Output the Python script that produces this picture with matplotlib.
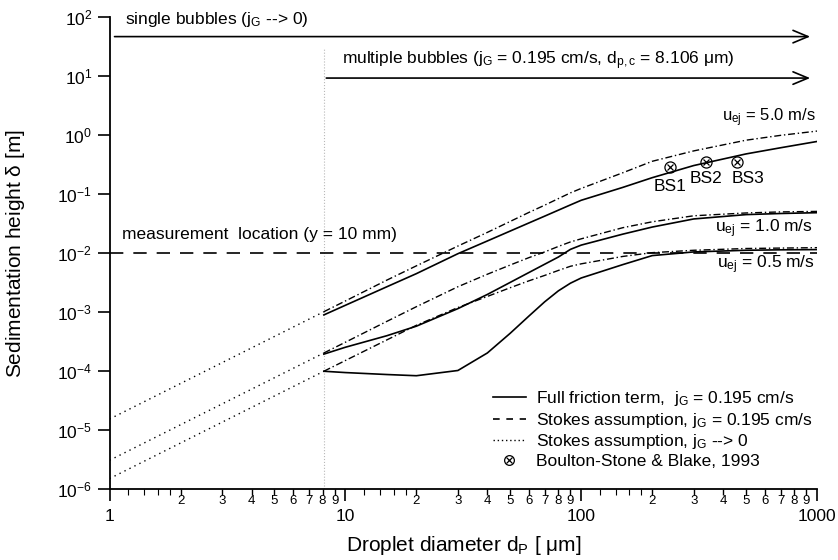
import numpy as np
import matplotlib
matplotlib.use('Agg')
import matplotlib.pyplot as plt
from matplotlib.lines import Line2D
from matplotlib.legend_handler import HandlerTuple
from matplotlib.ticker import FixedLocator, FuncFormatter, NullLocator

plt.rcParams['font.family'] = ['Liberation Sans', 'DejaVu Sans']
plt.rcParams['mathtext.fontset'] = 'custom'
plt.rcParams['mathtext.rm'] = 'Liberation Sans'
plt.rcParams['mathtext.it'] = 'Liberation Sans:italic'
plt.rcParams['mathtext.bf'] = 'Liberation Sans:bold'

# --- data ---
d_crit = 8.106  # um

# Stokes assumption, jG --> 0 (single bubbles, below d_p,c)
d_single = [1.0, 8.106]
stokes0_u5 = [1.55e-5, 1.02e-3]
stokes0_u1 = [3.1e-6, 2.04e-4]
stokes0_u05 = [1.52e-6, 1.0e-4]

# multiple bubbles, jG = 0.195 cm/s
d_multi = [8.106, 10, 15, 20, 30, 40, 50, 60, 70, 80, 90, 100, 150, 200, 300, 500, 700, 1000]
stokes_u5 = [1.02e-3, 1.55e-3, 3.5e-3, 6.1e-3, 1.32e-2, 2.25e-2, 3.45e-2, 4.9e-2, 6.5e-2,
             8.4e-2, 0.105, 0.125, 0.23, 0.36, 0.54, 0.82, 0.99, 1.17]
full_u5 = [9.0e-4, 1.31e-3, 2.7e-3, 4.5e-3, 9.8e-3, 1.61e-2, 2.37e-2, 3.25e-2, 4.24e-2,
           5.35e-2, 6.57e-2, 7.87e-2, 0.13, 0.19, 0.305, 0.48, 0.61, 0.78]
stokes_u1 = [2.04e-4, 3.1e-4, 7.0e-4, 1.24e-3, 2.7e-3, 4.4e-3, 6.3e-3, 8.4e-3, 1.05e-2,
             1.3e-2, 1.55e-2, 1.75e-2, 2.7e-2, 3.4e-2, 4.3e-2, 4.8e-2, 5.0e-2, 5.1e-2]
full_u1 = [1.95e-4, 2.55e-4, 4.0e-4, 5.8e-4, 1.15e-3, 2.0e-3, 3.2e-3, 4.7e-3, 6.5e-3,
           8.6e-3, 1.16e-2, 1.37e-2, 2.1e-2, 2.77e-2, 3.8e-2, 4.5e-2, 4.7e-2, 4.85e-2]
stokes_u05 = [1.0e-4, 1.52e-4, 3.4e-4, 6.0e-4, 1.2e-3, 1.85e-3, 2.6e-3, 3.4e-3, 4.2e-3,
              5.1e-3, 6.0e-3, 6.6e-3, 8.8e-3, 1.02e-2, 1.12e-2, 1.2e-2, 1.22e-2, 1.24e-2]
full_u05 = [1.0e-4, 9.5e-5, 8.8e-5, 8.4e-5, 1.03e-4, 2.04e-4, 4.4e-4, 8.6e-4, 1.5e-3,
            2.3e-3, 3.1e-3, 3.8e-3, 6.4e-3, 9.1e-3, 1.05e-2, 1.12e-2, 1.14e-2, 1.15e-2]

# Boulton-Stone & Blake, 1993
bs_d = [238, 339, 457]
bs_delta = [0.293, 0.351, 0.351]
bs_names = ['BS1', 'BS2', 'BS3']

y_measure = 0.01

x_major = [1, 10, 100, 1000]
x_major_labels = ['1', '10', '100', '1000']
y_major = [1e-6, 1e-5, 1e-4, 1e-3, 1e-2, 1e-1, 1e0, 1e1, 1e2]

# --- figure ---
fig = plt.figure(figsize=(8.38, 5.6), dpi=100)
ax = fig.add_axes([0.1307, 0.1262, 0.8443, 0.8434])
ax.set_xscale('log')
ax.set_yscale('log')
ax.set_xlim(1, 1000)
ax.set_ylim(1e-6, 1e2)

dashdot = (5, 2, 1, 2)
dotted = (1, 3)

ax.vlines(d_crit, 1e-6, 30, colors='#b8b8b8', lw=0.8, linestyles=':')
ax.axhline(y_measure, color='k', lw=1.2, dashes=(8, 6))

for s0, st, fu in [(stokes0_u5, stokes_u5, full_u5),
                   (stokes0_u1, stokes_u1, full_u1),
                   (stokes0_u05, stokes_u05, full_u05)]:
    ax.plot(d_single, s0, color='k', lw=1.0, dashes=dotted)
    ax.plot(d_multi, st, color='k', lw=1.0, dashes=dashdot)
    ax.plot(d_multi, fu, color='k', lw=1.2)

ax.plot(bs_d, bs_delta, 'o', mfc='none', mec='k', ms=8, mew=0.9)
ax.plot(bs_d, bs_delta, 'x', color='k', ms=4.5, mew=0.9)

# arrows + annotations
arrow = dict(arrowstyle='->, head_length=0.6, head_width=0.25', lw=1.2, color='k',
             mutation_scale=18, shrinkA=0, shrinkB=0)
ax.annotate('', xy=(935, 46.6), xytext=(1.05, 46.6), arrowprops=arrow)
ax.annotate('', xy=(935, 9.25), xytext=(8.3, 9.25), arrowprops=arrow)

fs = 12.5
ax.text(1.163, 76, r'single bubbles (j$_{\mathrm{G}}$ --> 0)', fontsize=fs, va='baseline')
ax.text(9.66, 16.0, r'multiple bubbles (j$_{\mathrm{G}}$ = 0.195 cm/s, d$_{\mathrm{p,c}}$ = 8.106 $\mathrm{\mu}$m)',
        fontsize=fs, va='baseline')
ax.text(1.13, 0.0171, 'measurement  location (y = 10 mm)', fontsize=fs, va='baseline')
ax.text(990, 1.74, r'u$_{\mathrm{ej}}$ = 5.0 m/s', fontsize=fs - 0.5, ha='right', va='baseline')
ax.text(963, 0.0222, r'u$_{\mathrm{ej}}$ = 1.0 m/s', fontsize=fs, ha='right', va='baseline')
ax.text(982, 0.00565, r'u$_{\mathrm{ej}}$ = 0.5 m/s', fontsize=fs, ha='right', va='baseline')
for name, xx, yy in zip(bs_names, [238, 339, 512], [0.113, 0.152, 0.152]):
    ax.text(xx, yy, name, fontsize=fs, ha='center', va='baseline')

# axes style
for side in ['top', 'right']:
    ax.spines[side].set_visible(False)
for side in ['left', 'bottom']:
    ax.spines[side].set_linewidth(1.3)

ax.xaxis.set_major_locator(FixedLocator(x_major))
ax.xaxis.set_major_formatter(FuncFormatter(lambda v, p: x_major_labels[x_major.index(round(v))] if round(v) in x_major else ''))
x_minor = [m * 10 ** k for k in range(3) for m in range(2, 10)]
ax.xaxis.set_minor_locator(FixedLocator(x_minor))
ax.xaxis.set_minor_formatter(FuncFormatter(lambda v, p: str(int(round(v / 10 ** np.floor(np.log10(v) + 1e-9))))))
ax.yaxis.set_major_locator(FixedLocator(y_major))
ax.yaxis.set_minor_locator(NullLocator())

ax.tick_params(axis='both', which='major', direction='out', length=8.5, width=1.2, labelsize=12.5)
ax.tick_params(axis='x', which='major', pad=6)
ax.tick_params(axis='y', which='major', pad=4)
ax.tick_params(axis='x', which='minor', direction='out', length=4, width=1.0, labelsize=9.5, pad=0)

# tiny ticks at 1.2..1.8 of each decade
x_tiny = [m * 10 ** k for k in range(3) for m in (1.2, 1.4, 1.6, 1.8)]
ax.vlines(x_tiny, -0.011, 0, transform=ax.get_xaxis_transform(), colors='k', lw=0.8, clip_on=False)

ax.set_xlabel(r'Droplet diameter d$_{\mathrm{P}}$ [ $\mathrm{\mu}$m]', fontsize=15)
ax.set_ylabel(r'Sedimentation height $\mathrm{\delta}$ [m]', fontsize=15)
ax.xaxis.set_label_coords(0.5, -0.095)
ax.yaxis.set_label_coords(-0.117, 0.5)

# legend
h_full = Line2D([], [], color='k', lw=1.2)
h_stokes = Line2D([], [], color='k', lw=1.2, dashes=(4, 4))
h_stokes0 = Line2D([], [], color='k', lw=1.0, dashes=(1, 2))
h_bs = (Line2D([], [], ls='none', marker='o', mfc='none', mec='k', ms=7, mew=0.9),
        Line2D([], [], ls='none', marker='x', color='k', ms=4, mew=0.9))
ax.legend([h_full, h_stokes, h_stokes0, h_bs],
          [r'Full friction term,  j$_{\mathrm{G}}$ = 0.195 cm/s',
           r'Stokes assumption, j$_{\mathrm{G}}$ = 0.195 cm/s',
           r'Stokes assumption, j$_{\mathrm{G}}$ --> 0',
           'Boulton-Stone & Blake, 1993'],
          handler_map={tuple: HandlerTuple(ndivide=1)},
          loc='upper left', bbox_to_anchor=(493 / 838, 1 - 389 / 560), bbox_transform=fig.transFigure,
          frameon=False, fontsize=12.5, handlelength=1.9, handletextpad=0.55,
          labelspacing=0.15, borderpad=0, borderaxespad=0)

fig.savefig('out.png', dpi=100)
